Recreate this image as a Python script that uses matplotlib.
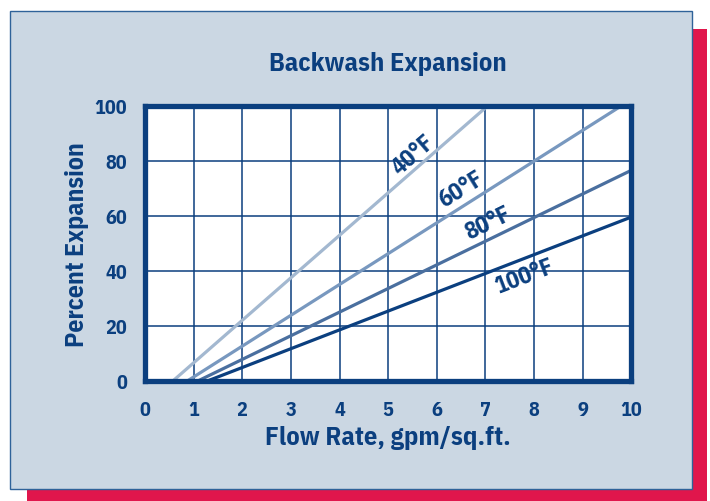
#!/usr/bin/env python3
import matplotlib
matplotlib.use("Agg")
import matplotlib.pyplot as plt
from matplotlib.patches import Rectangle

# data: start and end of each temperature line
temps = ["40°F", "60°F", "80°F", "100°F"]
flow_40 = [0.58, 7.05]
exp_40 = [0, 100]
flow_60 = [0.88, 9.8]
exp_60 = [0, 100]
flow_80 = [1.1, 10]
exp_80 = [0, 76.5]
flow_100 = [1.3, 10]
exp_100 = [0, 59.5]

xticks = list(range(0, 11))
yticks = [0, 20, 40, 60, 80, 100]

navy = "#0b3f7f"
line_colors = ["#a3b8d0", "#7898bf", "#4a6f9f", "#0b3f7f"]
# label spots (data coords) and angles
label_xy = [(5.52, 82.4), (6.51, 69.7), (7.06, 57.6), (7.81, 38.1)]
label_rot = [41, 32, 26, 21]

plt.rcParams["font.family"] = ["IBM Plex Sans Condensed", "DejaVu Sans"]
plt.rcParams["font.weight"] = "bold"

fig = plt.figure(figsize=(7.10, 5.02), dpi=100)
fig.patch.set_facecolor("white")

# red drop shadow and the light panel
fig.patches.append(Rectangle((0.038, 0.0), 0.958, 0.940, transform=fig.transFigure,
                             facecolor="#e0164c", edgecolor="none", zorder=-3))
fig.patches.append(Rectangle((0.0141, 0.0239), 0.9605, 0.952, transform=fig.transFigure,
                             facecolor="#cbd7e3", edgecolor="#2f6299", linewidth=1.0, zorder=-2))

ax = fig.add_axes([0.2042, 0.2397, 0.685, 0.5478])
ax.set_facecolor("white")

series = [(flow_40, exp_40), (flow_60, exp_60), (flow_80, exp_80), (flow_100, exp_100)]
for (xs, ys), c in zip(series, line_colors):
    ax.plot(xs, ys, color=c, linewidth=2.3, solid_capstyle="butt", zorder=3)

for t, (lx, ly), r in zip(temps, label_xy, label_rot):
    ax.text(lx, ly, t, rotation=r, ha="center", va="center", color=navy,
            fontsize=17, fontweight="bold", zorder=4)

ax.set_xlim(0, 10)
ax.set_ylim(0, 100)
ax.set_xticks(xticks)
ax.set_yticks(yticks)
ax.grid(True, color=navy, linewidth=1.1, zorder=1)
ax.set_axisbelow(True)
ax.tick_params(length=0, labelsize=14.5, labelcolor=navy)
ax.tick_params(axis="x", pad=14)
ax.tick_params(axis="y", pad=13)
for lab in ax.get_xticklabels() + ax.get_yticklabels():
    lab.set_fontweight("bold")
for s in ax.spines.values():
    s.set_color(navy)
    s.set_linewidth(3.8)
    s.set_zorder(5)

ax.set_xlabel("Flow Rate, gpm/sq.ft.", fontsize=19, fontweight="bold", color=navy, labelpad=4)
ax.set_ylabel("Percent Expansion", fontsize=18.5, fontweight="bold", color=navy, labelpad=4)
ax.set_title("Backwash Expansion", fontsize=19, fontweight="bold", color=navy, pad=26)

fig.savefig("out.png", dpi=100)
